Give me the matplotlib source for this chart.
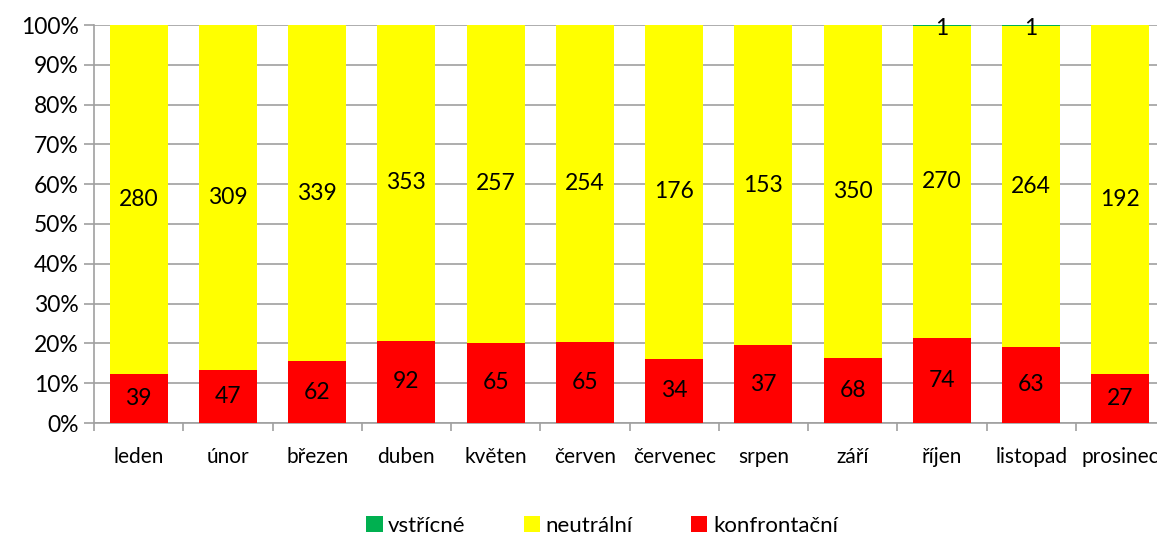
import matplotlib
matplotlib.use("Agg")
import matplotlib.pyplot as plt
import numpy as np

months = ["leden", "únor", "březen", "duben", "květen", "červen", "červenec",
          "srpen", "září", "říjen", "listopad", "prosinec"]
konfrontacni = [39, 47, 62, 92, 65, 65, 34, 37, 68, 74, 63, 27]
neutralni = [280, 309, 339, 353, 257, 254, 176, 153, 350, 270, 264, 192]
vstricne = [0, 0, 0, 0, 0, 0, 0, 0, 0, 1, 1, 0]
y_ticks = [0, 10, 20, 30, 40, 50, 60, 70, 80, 90, 100]

plt.rcParams['font.family'] = ['Lato', 'DejaVu Sans']

fig = plt.figure(figsize=(11.57, 5.38), dpi=100)
ax = fig.add_axes([94/1157, 1-423/538, (1165-94)/1157, (423-25)/538])

k = np.array(konfrontacni, float)
n = np.array(neutralni, float)
v = np.array(vstricne, float)
tot = k + n + v
kp = k / tot * 100
np_ = n / tot * 100
vp = v / tot * 100
x = np.arange(len(months))
w = 0.65

series = [("konfrontační", kp, k, "#ff0000", np.zeros_like(kp)),
          ("neutrální", np_, n, "#ffff00", kp),
          ("vstřícné", vp, v, "#00b050", kp + np_)]
for name, pct, raw, col, bottom in series:
    ax.bar(x, pct, w, bottom=bottom, color=col, label=name, zorder=3)
    for xi, p, r, b in zip(x, pct, raw, bottom):
        if r > 0:
            yc = b + p / 2
            if name == "vstřícné":
                yc = b - 0.5
            ax.text(xi, yc, f"{int(r)}", ha="center", va="center",
                    fontsize=16.5, color="black", zorder=4)

ax.set_xlim(-0.5, len(months) - 0.5)
ax.set_ylim(0, 100)
ax.set_yticks(y_ticks)
ax.set_yticklabels([f"{t}%" for t in y_ticks], fontsize=16.5)
ax.set_xticks(x)
ax.set_xticklabels(months, fontsize=15)
ax.set_xticks(np.arange(-0.5, len(months)), minor=True)
ax.tick_params(axis="x", which="major", length=0, pad=17)
ax.tick_params(axis="x", which="minor", length=6, color="#a0a0a0", width=1.2)
ax.tick_params(axis="y", length=7, color="#a0a0a0", width=1.2, pad=4)
ax.yaxis.grid(True, color="#a0a0a0", linewidth=1.2, zorder=0)
ax.set_axisbelow(True)
for s in ["top", "right"]:
    ax.spines[s].set_visible(False)
ax.spines["left"].set_color("#a0a0a0")
ax.spines["left"].set_linewidth(1.2)
ax.spines["bottom"].set_color("#a0a0a0")
ax.spines["bottom"].set_linewidth(1.2)

handles, labels = ax.get_legend_handles_labels()
order = [2, 1, 0]
leg = fig.legend([handles[i] for i in order], [labels[i] for i in order],
                 loc="center", bbox_to_anchor=(602/1157, 1-526/538), ncol=3,
                 frameon=False, fontsize=16, handlelength=0.75, handleheight=0.75,
                 handletextpad=0.25, columnspacing=2.6)

fig.savefig("out.png", dpi=100)
